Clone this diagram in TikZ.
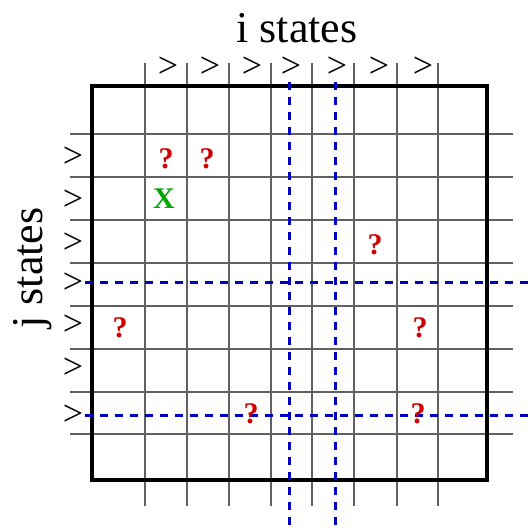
\documentclass[tikz,border=0pt]{standalone}
\usepackage{fontspec}
\setmainfont{Liberation Serif}
\usetikzlibrary{positioning}
\definecolor{cutblue}{HTML}{0000C0}
\definecolor{qred}{HTML}{D00000}
\definecolor{hitgreen}{HTML}{00A800}

\begin{document}
\begin{tikzpicture}[x=1pt, y=-1pt,
  gridline/.style={black!62, line width=1.5pt},
  frame/.style={black, line width=3.2pt},
  cutline/.style={cutblue, line width=3pt, dash pattern=on 8pt off 7pt},
  gt/.style={inner sep=0pt, font=\fontsize{36}{36}\selectfont},
  qmark/.style={inner sep=0pt, text=qred, font=\fontsize{30}{30}\selectfont\bfseries},
  axislabel/.style={inner sep=0pt, anchor=base, font=\fontsize{44}{44}\selectfont}
]
\useasboundingbox (0,0) rectangle (531,529);
% grid of i and j states
\foreach \xx in {145,187,229,271,312,354,397,438}
  \draw[gridline] (\xx,63) -- (\xx,506);
\foreach \yy in {134,177,220,263,306,349,392,434}
  \draw[gridline] (70,\yy) -- (513,\yy);
\draw[frame] (92,86) rectangle (487,480);
% blue cuts
\draw[cutline] (289,82) -- (289,529);
\draw[cutline] (335,82) -- (335,529);
\draw[cutline] (85,283) -- (531,283);
\draw[cutline] (85,416) -- (531,416);
% order marks
\foreach \xx [count=\k] in {168,210,252,291,337,379,423}
  \node[gt] (top\k) at (\xx,67) {>};
\foreach \yy [count=\k] in {157,200,243,283,325,368,415}
  \node[gt] (left\k) at (73,\yy) {>};
% labels
\node[axislabel] (istates) at (297,43) {i states};
\node[axislabel, rotate=90] (jstates) at (42,268) {j states};
% entries
\node[qmark] (q1) at (166,159) {?};
\node[qmark] (q2) at (207,159) {?};
\node[qmark] (q3) at (375,245) {?};
\node[qmark] (q4) at (120,328) {?};
\node[qmark] (q5) at (420,328) {?};
\node[qmark] (q6) at (251,414) {?};
\node[qmark] (q7) at (418,414) {?};
\node[qmark, text=hitgreen] (hit) at (164,199) {X};
\end{tikzpicture}
\end{document}
